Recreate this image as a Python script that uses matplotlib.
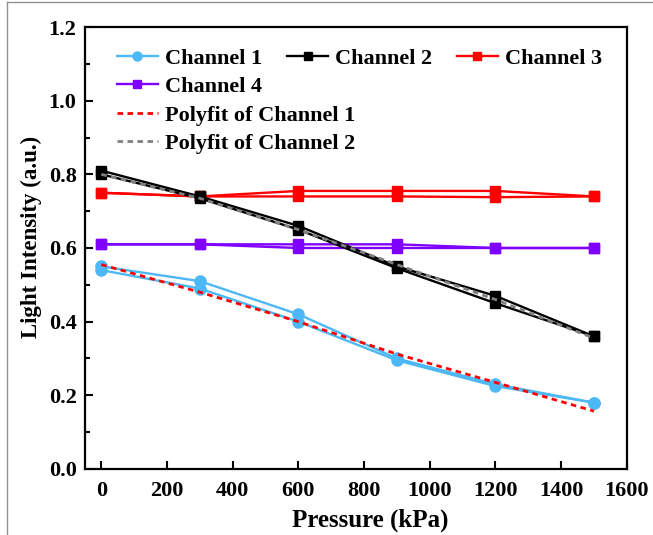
import matplotlib
matplotlib.use("Agg")
import matplotlib.pyplot as plt
from matplotlib.lines import Line2D

plt.rcParams['font.family'] = ['Liberation Serif', 'DejaVu Serif']
plt.rcParams['font.weight'] = 'bold'

# pressure steps, loading then unloading
pressure = [0, 300, 600, 900, 1200, 1500]

ch1_up = [0.55, 0.51, 0.42, 0.300, 0.230, 0.180]
ch1_down = [0.54, 0.49, 0.40, 0.295, 0.225, 0.180]
ch2_up = [0.81, 0.740, 0.660, 0.550, 0.470, 0.360]
ch2_down = [0.80, 0.735, 0.650, 0.545, 0.450, 0.360]
ch3_up = [0.750, 0.740, 0.755, 0.755, 0.755, 0.740]
ch3_down = [0.750, 0.740, 0.740, 0.740, 0.738, 0.740]
ch4_up = [0.610, 0.610, 0.610, 0.610, 0.600, 0.600]
ch4_down = [0.610, 0.610, 0.600, 0.600, 0.600, 0.600]

fit1 = [0.555, 0.480, 0.400, 0.312, 0.235, 0.157]
fit2 = [0.800, 0.735, 0.650, 0.555, 0.460, 0.355]

c_blue = '#4CB8F5'
c_black = 'black'
c_red = '#FF0000'
c_purple = '#7F00FF'
c_gray = '#808080'

fig = plt.figure(figsize=(6.53, 5.35), dpi=100)
ax = fig.add_axes([0.130, 0.1234, 0.830, 0.8261])

lw = 1.7
for y in (ch3_up, ch3_down):
    ax.plot(pressure, y, color=c_red, marker='s', ms=7.5, lw=lw)
for y in (ch4_up, ch4_down):
    ax.plot(pressure, y, color=c_purple, marker='s', ms=7.5, lw=lw)
for y in (ch2_up, ch2_down):
    ax.plot(pressure, y, color=c_black, marker='s', ms=7.5, lw=lw)
for y in (ch1_up, ch1_down):
    ax.plot(pressure, y, color=c_blue, marker='o', ms=8, lw=lw)
ax.plot(pressure, fit1, color=c_red, ls=(0, (2, 1.6)), lw=2)
ax.plot(pressure, fit2, color=c_gray, ls=(0, (2, 1.6)), lw=2)

ax.set_xlim(-50, 1600)
ax.set_ylim(0, 1.2)
ax.set_xticks(range(0, 1601, 200))
ax.set_yticks([0.0, 0.2, 0.4, 0.6, 0.8, 1.0, 1.2])
ax.set_yticks([0.1, 0.3, 0.5, 0.7, 0.9, 1.1], minor=True)
ax.set_yticklabels(['0.0', '0.2', '0.4', '0.6', '0.8', '1.0', '1.2'])
ax.tick_params(which='major', direction='in', length=6, width=1.5, labelsize=16, pad=6)
ax.tick_params(which='minor', direction='in', length=3.5, width=1.5)
ax.tick_params(axis='x', pad=9)
for s in ax.spines.values():
    s.set_linewidth(1.6)

ax.set_xlabel('Pressure (kPa)', fontsize=18, fontweight='bold')
ax.set_ylabel('Light Intensity (a.u.)', fontsize=16.5, fontweight='bold')
ax.xaxis.set_label_coords(0.526, -0.09)
ax.yaxis.set_label_coords(-0.08, 0.525)

# legend laid out like the original: three entries on top row, rest in first column
h1 = Line2D([], [], color=c_blue, marker='o', ms=6.5, lw=lw)
h2 = Line2D([], [], color=c_black, marker='s', ms=5.5, lw=lw)
h3 = Line2D([], [], color=c_red, marker='s', ms=5.5, lw=lw)
h4 = Line2D([], [], color=c_purple, marker='s', ms=5.5, lw=lw)
hf1 = Line2D([], [], color=c_red, ls=(0, (2, 1.6)), lw=2)
hf2 = Line2D([], [], color=c_gray, ls=(0, (2, 1.6)), lw=2)

kw = dict(frameon=False, handlelength=1.85, handletextpad=0.32,
          labelspacing=0.355, borderaxespad=0, borderpad=0,
          prop={'weight': 'bold', 'size': 16})
lg1 = ax.legend([h1, h4, hf1, hf2],
                ['Channel 1', 'Channel 4', 'Polyfit of Channel 1', 'Polyfit of Channel 2'],
                loc='upper left', bbox_to_anchor=(0.059, 0.952), **kw)
ax.add_artist(lg1)
lg2 = ax.legend([h2], ['Channel 2'], loc='upper left', bbox_to_anchor=(0.373, 0.952), **kw)
ax.add_artist(lg2)
ax.legend([h3], ['Channel 3'], loc='upper left', bbox_to_anchor=(0.686, 0.952), **kw)

# thin frame of the original screenshot
fig.add_artist(Line2D([7 / 653, 7 / 653], [0, 1 - 2 / 535], color='#909090', lw=1))
fig.add_artist(Line2D([7 / 653, 1], [1 - 2 / 535, 1 - 2 / 535], color='#909090', lw=1))

fig.savefig('out.png', dpi=100)
